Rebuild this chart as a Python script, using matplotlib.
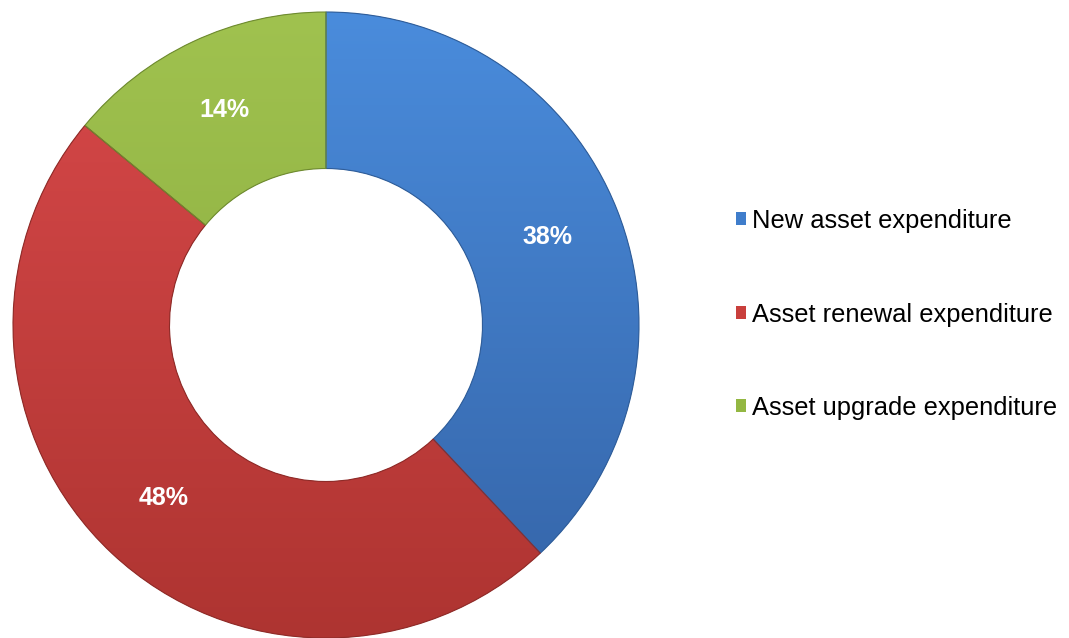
import numpy as np
import matplotlib
matplotlib.use('Agg')
import matplotlib.pyplot as plt
from matplotlib.colors import LinearSegmentedColormap
from matplotlib.patches import PathPatch

plt.rcParams['font.family'] = ['Liberation Sans', 'DejaVu Sans']

categories = ['New asset expenditure', 'Asset renewal expenditure', 'Asset upgrade expenditure']
shares = [38, 48, 14]
colors = ['#3F7DCB', '#C93F3C', '#93B742']
top_colors = ['#4A8CDC', '#D8494A', '#A0C24F']
bottom_colors = ['#3463A6', '#AE3431', '#84A53A']
edge_colors = ['#2F5D99', '#8E2B28', '#6E8A30']

W, H = 1069, 638
fig = plt.figure(figsize=(W / 100, H / 100), dpi=100)
ax = fig.add_axes([0, 0, 1, 1])

cx, cy, R = 326, 313, 313

wedges, texts, autotexts = ax.pie(
    shares, colors=colors, startangle=90, counterclock=False,
    center=(cx, cy), radius=R,
    wedgeprops=dict(width=R * 0.5, edgecolor='none'),
    autopct='%d%%', pctdistance=0.76,
    textprops=dict(color='white', fontsize=18, fontweight='bold'),
)

# vertical gradient inside each wedge, clipped to its shape
grad = np.linspace(0, 1, 256).reshape(-1, 1)
for w, c0, c1, ec in zip(wedges, top_colors, bottom_colors, edge_colors):
    cmap = LinearSegmentedColormap.from_list('g', [c0, c1])
    im = ax.imshow(grad, cmap=cmap, extent=(cx - R, cx + R, cy - R, cy + R),
                   origin='upper', aspect='auto', zorder=w.get_zorder() + 0.1)
    im.set_clip_path(w)
    # thin darker outline
    ax.add_patch(PathPatch(w.get_path(), fill=False, edgecolor=ec,
                           linewidth=0.8, zorder=w.get_zorder() + 0.2))
for t in autotexts:
    t.set_zorder(5)

ax.legend(wedges, categories, loc='center left',
          bbox_to_anchor=(723, 638 - 314.5), bbox_transform=ax.transData,
          frameon=False, fontsize=18.4, handlelength=0.41, handleheight=0.41,
          handletextpad=0.22, labelspacing=2.72, borderpad=0)

ax.set_xlim(0, W)
ax.set_ylim(0, H)
ax.set_aspect('equal')
ax.axis('off')

plt.savefig('out.png', dpi=100)
